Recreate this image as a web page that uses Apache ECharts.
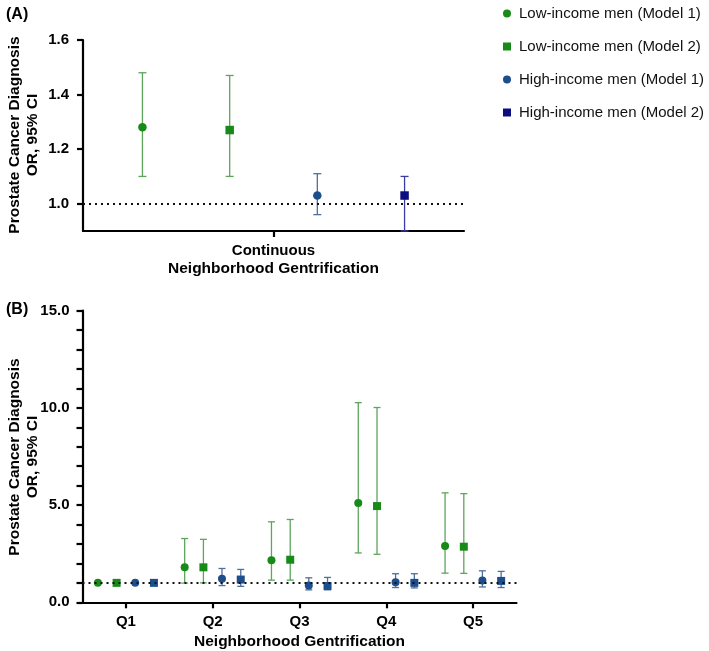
<!DOCTYPE html>
<html>
<head>
<meta charset="utf-8">
<script src="https://cdn.jsdelivr.net/npm/echarts@6/dist/echarts.min.js"></script>
<style>
html,body{margin:0;padding:0;background:#fff;}
#c{width:709px;height:651px;}
</style>
</head>
<body>
<div id="c"></div>
<script>
// ---------- DATA ----------
const seriesNames = ['Low-income men (Model 1)', 'Low-income men (Model 2)', 'High-income men (Model 1)', 'High-income men (Model 2)'];
const panelACategories = ['Continuous'];
const panelBCategories = ['Q1', 'Q2', 'Q3', 'Q4', 'Q5'];
const panelAYTicks = [1.0, 1.2, 1.4, 1.6];
const panelBYTicks = [0, 5, 10, 15];

// Panel A (continuous): OR, lower CI, upper CI per series
const contOR  = [1.28, 1.27, 1.03, 1.03];
const contLow = [1.10, 1.10, 0.96, 0.90];
const contHigh= [1.48, 1.47, 1.11, 1.10];

// Panel B (quintiles)
const lowM1OR   = [1.00, 1.80, 2.16, 5.11, 2.90];
const lowM1Low  = [1.00, 0.99, 1.14, 2.54, 1.50];
const lowM1High = [1.00, 3.28, 4.14, 10.27, 5.63];

const lowM2OR   = [1.00, 1.80, 2.19, 4.95, 2.86];
const lowM2Low  = [1.00, 1.00, 1.14, 2.47, 1.49];
const lowM2High = [1.00, 3.24, 4.26, 10.02, 5.59];

const highM1OR   = [1.00, 1.21, 0.86, 1.03, 1.12];
const highM1Low  = [1.00, 0.86, 0.64, 0.76, 0.79];
const highM1High = [1.00, 1.74, 1.26, 1.47, 1.62];

const highM2OR   = [1.00, 1.17, 0.84, 1.00, 1.10];
const highM2Low  = [1.00, 0.82, 0.64, 0.74, 0.76];
const highM2High = [1.00, 1.69, 1.28, 1.47, 1.59];

// ---------- STYLE ----------
const FONT = '"Liberation Sans", Arial, Helvetica, sans-serif';
const markerColorsA = ['#178a17', '#178a17', '#1c4e8c', '#0d0d82'];
const barColorsA    = ['#5da55d', '#5da55d', '#4f6f9c', '#3b3ba6'];
const markerColorsB = ['#178a17', '#178a17', '#1c4e8c', '#1c4e8c'];
const barColorsB    = ['#5da55d', '#5da55d', '#4f6f9c', '#4f6f9c'];
const symbols = ['circle', 'rect', 'circle', 'rect'];
const offsetsA = [-0.344, -0.115, 0.115, 0.344];
const offsetsB = [-0.323, -0.107, 0.107, 0.323];

const bOR   = [lowM1OR, lowM2OR, highM1OR, highM2OR];
const bLow  = [lowM1Low, lowM2Low, highM1Low, highM2Low];
const bHigh = [lowM1High, lowM2High, highM1High, highM2High];

function errorSeries(name, xIdx, yIdx, data, color, capHalf) {
  return {
    type: 'custom', name: name + ' CI', xAxisIndex: xIdx, yAxisIndex: yIdx, silent: true, z: 2,
    data: data,
    renderItem: function (params, api) {
      const x = api.value(0), lo = api.value(1), hi = api.value(2);
      if (lo === hi) return null;
      const pLo = api.coord([x, lo]);
      const pHi = api.coord([x, hi]);
      const st = { stroke: color, lineWidth: 1.3 };
      return {
        type: 'group',
        children: [
          { type: 'line', shape: { x1: pLo[0], y1: pLo[1], x2: pHi[0], y2: pHi[1] }, style: st },
          { type: 'line', shape: { x1: pHi[0] - capHalf, y1: pHi[1], x2: pHi[0] + capHalf, y2: pHi[1] }, style: st },
          { type: 'line', shape: { x1: pLo[0] - capHalf, y1: pLo[1], x2: pLo[0] + capHalf, y2: pLo[1] }, style: st }
        ]
      };
    }
  };
}

const series = [];
// Panel A
for (let i = 0; i < 4; i++) {
  series.push(errorSeries(seriesNames[i], 0, 0,
    [[1 + offsetsA[i], contLow[i], contHigh[i]]], barColorsA[i], 4));
  series.push({
    type: 'scatter', name: seriesNames[i], xAxisIndex: 0, yAxisIndex: 0, z: 3,
    symbol: symbols[i], symbolSize: 8.5,
    itemStyle: { color: markerColorsA[i], opacity: 1 },
    data: [[1 + offsetsA[i], contOR[i]]]
  });
}
// Panel B
for (let i = 0; i < 4; i++) {
  series.push(errorSeries(seriesNames[i], 1, 1,
    panelBCategories.map((c, k) => [k + 1 + offsetsB[i], bLow[i][k], bHigh[i][k]]), barColorsB[i], 3.5));
  series.push({
    type: 'scatter', name: seriesNames[i] + ' B', xAxisIndex: 1, yAxisIndex: 1, z: 3,
    symbol: symbols[i], symbolSize: 8,
    itemStyle: { color: markerColorsB[i], opacity: 1 },
    data: panelBCategories.map((c, k) => [k + 1 + offsetsB[i], bOR[i][k]])
  });
}
// Reference lines at OR = 1
function refLine(xIdx, yIdx) {
  return {
    type: 'line', xAxisIndex: xIdx, yAxisIndex: yIdx, data: [], silent: true, z: 1,
    markLine: {
      silent: true, symbol: ['none', 'none'], label: { show: false },
      lineStyle: { color: '#111', width: 2, type: [2, 4] },
      data: [{ yAxis: 1 }]
    }
  };
}
series.push(refLine(0, 0));
series.push(refLine(1, 1));

const axisLineStyle = { show: true, lineStyle: { color: '#000', width: 2.2 } };
const tickStyle = { show: true, length: 6, lineStyle: { color: '#000', width: 2.2 } };
const labelStyle = { color: '#000', fontWeight: 'bold', fontSize: 15, fontFamily: FONT };

const option = {
  animation: false,
  backgroundColor: '#fff',
  textStyle: { fontFamily: FONT },
  grid: [
    { left: 83, top: 40, width: 381, height: 191, containLabel: false },
    { left: 82.5, top: 310.7, width: 434, height: 291.6, containLabel: false }
  ],
  xAxis: [
    {
      gridIndex: 0, type: 'value', min: 0.5, max: 1.5,
      axisLine: axisLineStyle, splitLine: { show: false },
      axisTick: Object.assign({}, tickStyle, { customValues: [1] }),
      axisLabel: Object.assign({}, labelStyle, { customValues: [1], margin: 12,
        formatter: v => panelACategories[Math.round(v) - 1] }),
      name: 'Neighborhood Gentrification', nameLocation: 'middle', nameGap: 30,
      nameTextStyle: { color: '#000', fontWeight: 'bold', fontSize: 15.5, fontFamily: FONT }
    },
    {
      gridIndex: 1, type: 'value', min: 0.5, max: 5.5,
      axisLine: axisLineStyle, splitLine: { show: false },
      axisTick: Object.assign({}, tickStyle, { customValues: [1, 2, 3, 4, 5] }),
      axisLabel: Object.assign({}, labelStyle, { customValues: [1, 2, 3, 4, 5], margin: 12,
        formatter: v => panelBCategories[Math.round(v) - 1] }),
      name: 'Neighborhood Gentrification', nameLocation: 'middle', nameGap: 31,
      nameTextStyle: { color: '#000', fontWeight: 'bold', fontSize: 15.5, fontFamily: FONT }
    }
  ],
  yAxis: [
    {
      gridIndex: 0, type: 'value', min: 0.9, max: 1.6,
      axisLine: axisLineStyle, splitLine: { show: false },
      axisTick: Object.assign({}, tickStyle, { customValues: panelAYTicks }),
      axisLabel: Object.assign({}, labelStyle, { customValues: panelAYTicks, margin: 14,
        formatter: v => v.toFixed(1) })
    },
    {
      gridIndex: 1, type: 'value', min: 0, max: 15, interval: 1,
      axisLine: axisLineStyle, splitLine: { show: false },
      axisTick: tickStyle,
      axisLabel: Object.assign({}, labelStyle, { customValues: panelBYTicks, margin: 13,
        formatter: v => v.toFixed(1) })
    }
  ],
  legend: {
    orient: 'vertical', left: 498, top: 1, itemWidth: 8, itemHeight: 8, itemGap: 18,
    textStyle: { color: '#111', fontSize: 15, fontFamily: FONT, padding: [0, 0, 0, 3] },
    data: seriesNames.map((n, i) => ({ name: n, icon: symbols[i] === 'circle' ? 'circle' : 'rect' }))
  },
  graphic: [
    { type: 'text', left: 6, top: 7, style: { text: '(A)', font: 'bold 16px ' + FONT, fill: '#000' } },
    { type: 'text', left: 6, top: 302, style: { text: '(B)', font: 'bold 16px ' + FONT, fill: '#000' } },
    { type: 'text', x: 24, y: 135, rotation: Math.PI / 2,
      style: { text: 'Prostate Cancer Diagnosis\nOR, 95% CI', align: 'center', verticalAlign: 'middle',
        font: 'bold 15.5px ' + FONT, fill: '#000', lineHeight: 18 } },
    { type: 'text', x: 24, y: 457, rotation: Math.PI / 2,
      style: { text: 'Prostate Cancer Diagnosis\nOR, 95% CI', align: 'center', verticalAlign: 'middle',
        font: 'bold 15.5px ' + FONT, fill: '#000', lineHeight: 18 } }
  ],
  series: series
};

const chart = echarts.init(document.getElementById('c'), null, { renderer: 'canvas' });
chart.setOption(option);
</script>
</body>
</html>
